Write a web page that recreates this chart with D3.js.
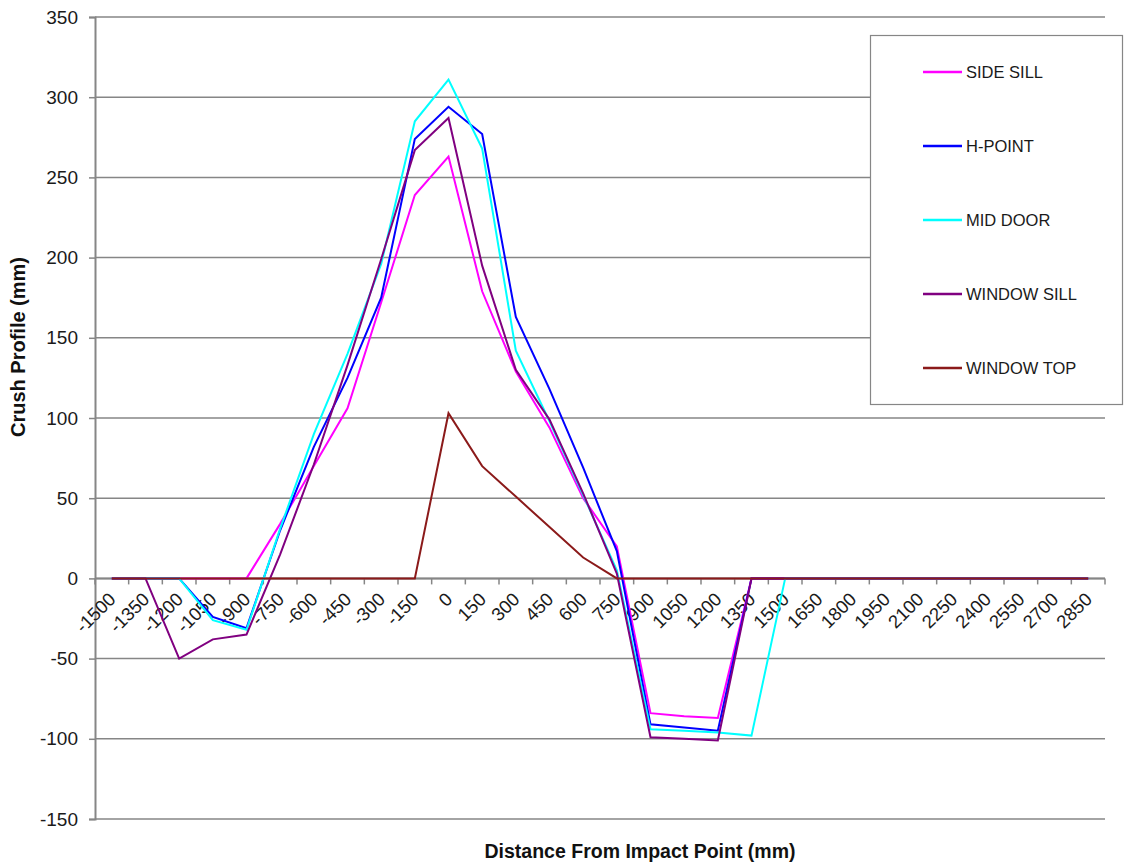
<!DOCTYPE html>
<html>
<head>
<meta charset="utf-8">
<script src="https://cdn.jsdelivr.net/npm/d3@7"></script>
<style>
  html, body { margin: 0; padding: 0; background: #fff; }
  svg { display: block; font-family: "Liberation Sans", Arial, sans-serif; }
</style>
</head>
<body>
<svg id="chart" width="1124" height="867"></svg>
<script>
const categories = [-1500,-1350,-1200,-1050,-900,-750,-600,-450,-300,-150,0,150,300,450,600,750,900,1050,1200,1350,1500,1650,1800,1950,2100,2250,2400,2550,2700,2850];
const sideSill   = [0,0,0,0,0,34,70,106,172,239,263,179,129,94,50,20,-84,-86,-87,0,0,0,0,0,0,0,0,0,0,0];
const hPoint     = [0,0,0,-24,-31,30,82,125,175,274,294,277,163,118,69,17,-91,-93,-95,0,0,0,0,0,0,0,0,0,0,0];
const midDoor    = [0,0,0,-26,-32,31,90,140,196,285,311,268,142,98,52,5,-94,-95,-96,-98,0,0,0,0,0,0,0,0,0,0];
const windowSill = [0,0,-50,-38,-35,15,71,133,199,267,287,195,130,99,53,3,-99,-100,-101,0,0,0,0,0,0,0,0,0,0,0];
const windowTop  = [0,0,0,0,0,0,0,0,0,0,103,70,51,32,13,0,0,0,0,0,0,0,0,0,0,0,0,0,0,0];
const seriesNames = ["SIDE SILL","H-POINT","MID DOOR","WINDOW SILL","WINDOW TOP"];
const seriesValues = [sideSill, hPoint, midDoor, windowSill, windowTop];
const seriesColors = ["#ff00ff","#0000ff","#00ffff","#800080","#8b1a1a"];
const yTicks = [-150,-100,-50,0,50,100,150,200,250,300,350];

const svg = d3.select("#chart");
const L = 95, R = 1105, T = 17, B = 819;

const x = d3.scaleBand().domain(categories).range([L, R]).paddingInner(0).paddingOuter(0);
const cx = c => x(c) + x.bandwidth() / 2;
const y = d3.scaleLinear().domain([-150, 350]).range([B, T]);

// gridlines
svg.append("g").selectAll("line").data(yTicks).join("line")
  .attr("x1", L).attr("x2", R)
  .attr("y1", d => y(d)).attr("y2", d => y(d))
  .attr("stroke", "#868686").attr("stroke-width", 1.5);

// y axis
const yAxis = d3.axisLeft(y).tickValues(yTicks).tickSize(6).tickPadding(11).tickFormat(d => String(d));
const gy = svg.append("g").attr("transform", `translate(${L},0)`).call(yAxis);
gy.select(".domain").attr("stroke", "#868686").attr("stroke-width", 2);
gy.selectAll(".tick line").attr("stroke", "#868686").attr("stroke-width", 1.5);
gy.selectAll(".tick text").attr("font-size", 19).attr("fill", "#1a1a1a")
  .attr("font-family", "Liberation Sans, Arial, sans-serif");

// x axis line at zero
const x0 = y(0);
svg.append("line").attr("x1", L).attr("x2", R).attr("y1", x0).attr("y2", x0)
  .attr("stroke", "#868686").attr("stroke-width", 2);
// tick marks at band boundaries
const bounds = categories.map(c => x(c)).concat([R]);
svg.append("g").selectAll("line").data(bounds).join("line")
  .attr("x1", d => d).attr("x2", d => d).attr("y1", x0).attr("y2", x0 + 6)
  .attr("stroke", "#868686").attr("stroke-width", 1.5);
// tick labels
svg.append("g").selectAll("text").data(categories).join("text")
  .attr("transform", d => `translate(${cx(d) + 5},${x0 + 22}) rotate(-45)`)
  .attr("text-anchor", "end")
  .attr("font-size", 18.5).attr("fill", "#1a1a1a")
  .text(d => String(d));

// series lines
const line = d3.line().x((d, i) => cx(categories[i])).y(d => y(d));
seriesValues.forEach((vals, k) => {
  svg.append("path").datum(vals)
    .attr("d", line)
    .attr("fill", "none")
    .attr("stroke", seriesColors[k])
    .attr("stroke-width", 2)
    .attr("stroke-linejoin", "miter");
});

// legend
const lg = svg.append("g");
lg.append("rect").attr("x", 870.5).attr("y", 35.5).attr("width", 252).attr("height", 369)
  .attr("fill", "#fff").attr("stroke", "#868686").attr("stroke-width", 1.2);
seriesNames.forEach((n, k) => {
  const yy = 72 + k * 74;
  lg.append("line").attr("x1", 923).attr("x2", 962).attr("y1", yy).attr("y2", yy)
    .attr("stroke", seriesColors[k]).attr("stroke-width", 2.5);
  lg.append("text").attr("x", 966).attr("y", yy + 6)
    .attr("font-size", 16.5).attr("fill", "#1a1a1a").text(n);
});

// axis titles
svg.append("text")
  .attr("x", 640).attr("y", 858)
  .attr("text-anchor", "middle").attr("font-weight", "bold").attr("font-size", 19.5)
  .attr("fill", "#111")
  .text("Distance From Impact Point (mm)");
svg.append("text")
  .attr("transform", `translate(25,347) rotate(-90)`)
  .attr("text-anchor", "middle").attr("font-weight", "bold").attr("font-size", 20)
  .attr("fill", "#111")
  .text("Crush Profile (mm)");
</script>
</body>
</html>
